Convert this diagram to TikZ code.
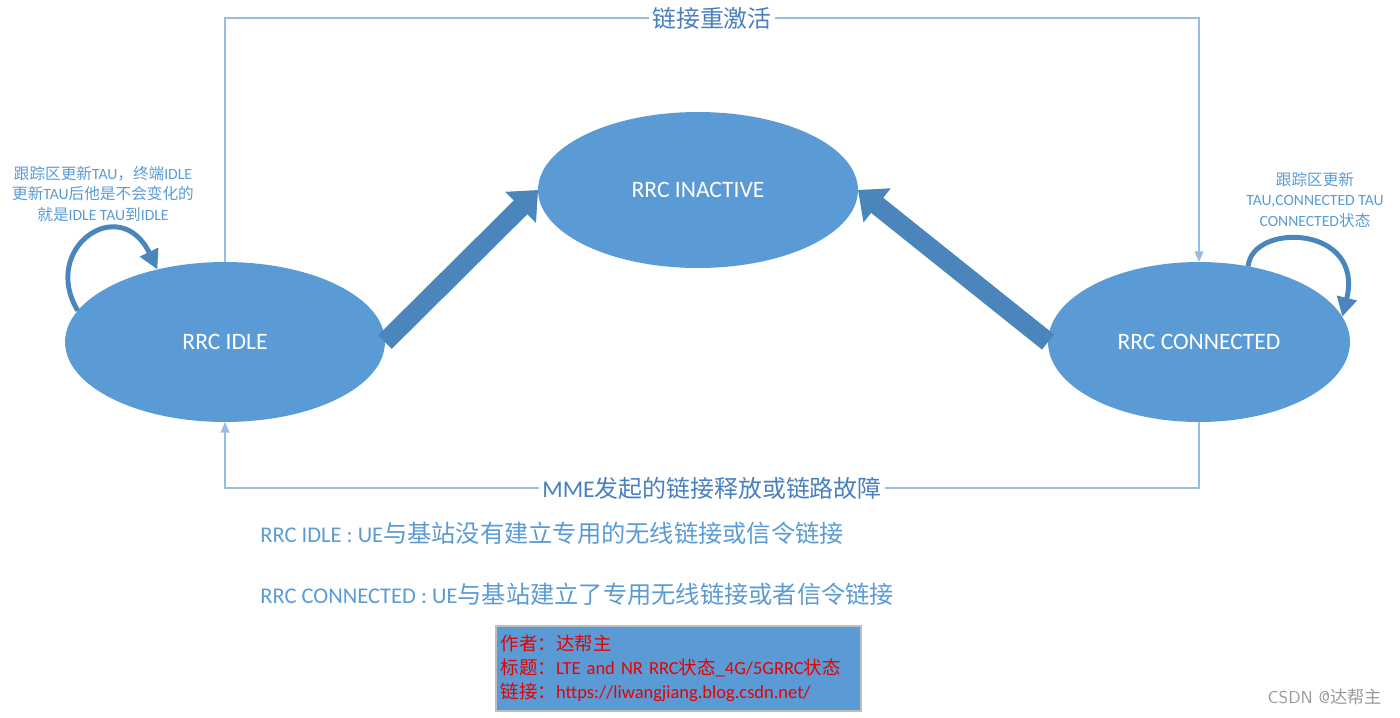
\documentclass[tikz,border=0pt]{standalone}
\usepackage{fontspec}
\usepackage{tikz}
\usetikzlibrary{shapes.geometric, arrows.meta, positioning, calc}
\setmainfont{Carlito}
\newfontfamily\cjk{Noto Sans CJK SC}
\newcommand{\zh}[1]{{\cjk #1}}
\newcommand{\zhdesc}[1]{{\cjk\fontsize{13.8}{15}\selectfont #1}}
\definecolor{myblue}{RGB}{91,155,213}
\definecolor{mydeep}{RGB}{74,134,188}
\definecolor{mylabel}{RGB}{72,128,192}
\definecolor{mythin}{RGB}{150,190,228}
\definecolor{mygrey}{RGB}{190,190,190}
\definecolor{myred}{RGB}{230,0,0}
\tikzset{
  state/.style={ellipse, fill=myblue, draw=none, outer sep=0pt,
    text=white, font=\fontsize{13.4}{15}\selectfont},
  fatarrow/.style={line width=11pt, color=mydeep,
    -{Triangle[length=14pt, width=24pt]}},
  thinarrow/.style={line width=0.75pt, color=mythin,
    -{Triangle[length=6pt, width=5pt]}},
  looparrow/.style={line width=2.8pt, color=mydeep,
    -{Triangle[length=11pt, width=11pt]}},
  linklabel/.style={fill=white, inner sep=2pt, text=mylabel,
    font=\fontsize{13.6}{15}\selectfont},
  note/.style={text=myblue, align=center,
    font=\fontsize{8.9}{11.6}\selectfont},
  desc/.style={anchor=west, text=myblue, inner sep=0pt,
    font=\fontsize{12.8}{14}\selectfont}
}
\begin{document}
\begin{tikzpicture}[x=0.02cm, y=-0.02cm]
  \useasboundingbox (0,0) rectangle (1400,717);
  % states
  \node[state, minimum width=6.4cm, minimum height=3.2cm] (idle) at (225,342) {RRC IDLE};
  \node[state, minimum width=6.4cm, minimum height=3.12cm] (inactive) at (698,190) {RRC INACTIVE};
  \node[state, minimum width=6.04cm, minimum height=3.2cm] (conn) at (1199,342) {RRC CONNECTED};
  % fat arrows
  \draw[fatarrow] (idle.east) -- (inactive.west);
  \draw[fatarrow] (conn.west) -- (inactive.east);
  % outer links
  \coordinate (top) at (712,18);
  \coordinate (bot) at (712,488);
  \draw[thinarrow] (idle.north) |- (top) -| (conn.north);
  \draw[thinarrow] (conn.south) |- (bot) -| (idle.south);
  \node[linklabel] (relink) at (top) {\zh{链接重激活}};
  \node[linklabel] (release) at (bot) {MME\zh{发起的链接释放或链路故障}};
  % self loops
  \draw[looparrow] (idle.168) .. controls (40,248) and (120,192) .. (idle.133);
  \draw[looparrow] (conn.57) .. controls (1252,222) and (1365,225) .. (conn.10);
  \node[note] (idlenote) at (103,194)
    {\zh{跟踪区更新}TAU\zh{，终端}IDLE\\\zh{更新}TAU\zh{后他是不会变化的}\\\zh{就是}IDLE TAU\zh{到}IDLE};
  \node[note] (connnote) at (1315,200)
    {\zh{跟踪区更新}\\TAU,CONNECTED TAU\\CONNECTED\zh{状态}};
  % descriptions
  \node[desc] (idledesc) at (260,533) {RRC IDLE : UE\zhdesc{与基站没有建立专用的无线链接或信令链接}};
  \node[desc] (conndesc) at (260,594) {RRC CONNECTED : UE\zhdesc{与基站建立了专用无线链接或者信令链接}};
  % info box
  \node[rectangle, fill=myblue, draw=mygrey, line width=0.9pt, anchor=north west,
    minimum width=7.3cm, minimum height=1.7cm, text width=7.1cm, align=left,
    inner sep=2.5pt, text=myred, font=\fontsize{10.5}{13.6}\selectfont] (info) at (495,625)
    {\zh{作者：达帮主}\\\zh{标题：}LTE and NR RRC\zh{状态}\_4G/5GRRC\zh{状态}\\\zh{链接：}https://liwangjiang.blog.csdn.net/};
  \node[anchor=east, text=gray!80, font=\fontsize{9.8}{11}\selectfont] (mark) at (1388,697)
    {\sffamily CSDN @\zh{达帮主}};
\end{tikzpicture}
\end{document}
